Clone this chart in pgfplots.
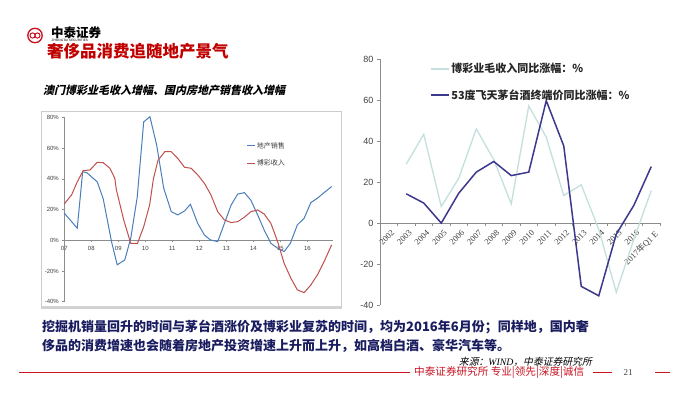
\documentclass[border=0pt]{standalone}
\usepackage{pgfplots}
\pgfplotsset{compat=1.18}
\usepackage{fontspec}
\setmainfont{Liberation Sans}
\newfontfamily\cjk{Noto Sans CJK SC}
\newfontfamily\cjksl[FakeSlant=0.22]{Noto Sans CJK SC}
\newfontfamily\tms{Liberation Serif}
\definecolor{ztred}{RGB}{200,20,35}
\definecolor{titlered}{RGB}{192,0,0}
\definecolor{navy}{RGB}{25,28,95}
\definecolor{xlblue}{RGB}{74,126,187}
\definecolor{xlred}{RGB}{192,80,77}
\definecolor{pale}{RGB}{196,224,222}
\definecolor{darkl}{RGB}{60,56,140}
\definecolor{axgray}{RGB}{140,140,140}
\definecolor{txtgray}{RGB}{64,64,64}
\pgfplotstableread{
x y
2007.00 17.6
2007.48 7.8
2007.68 44.6
2007.83 44.0
2008.22 38.0
2008.44 27.0
2008.75 -1.0
2008.96 -16.0
2009.24 -12.8
2009.46 1.3
2009.70 28.0
2009.94 77.0
2010.17 80.4
2010.42 62.0
2010.68 34.0
2010.96 18.6
2011.20 16.5
2011.45 19.0
2011.67 23.4
2011.94 11.0
2012.19 3.4
2012.41 0.2
2012.68 -0.9
2012.93 11.0
2013.18 23.0
2013.42 30.0
2013.67 31.0
2013.91 26.0
2014.16 16.5
2014.40 6.7
2014.65 -2.0
2014.90 -5.2
2015.14 -7.4
2015.37 -2.0
2015.63 10.0
2015.88 14.3
2016.13 24.5
2016.37 27.3
2016.62 31.0
2016.90 34.9
}\estate
\pgfplotstableread{
x y
2007.00 23.6
2007.27 29.5
2007.48 38.0
2007.70 45.3
2007.95 45.7
2008.22 50.7
2008.44 50.5
2008.69 46.8
2008.87 40.3
2008.93 32.7
2009.20 13.2
2009.46 -2.0
2009.71 -2.0
2009.94 8.8
2010.16 23.0
2010.30 40.0
2010.47 52.0
2010.72 57.6
2010.96 57.6
2011.20 53.3
2011.45 47.5
2011.70 46.8
2011.94 42.5
2012.19 37.0
2012.43 29.5
2012.68 18.6
2012.93 13.2
2013.18 11.5
2013.42 12.1
2013.67 15.0
2013.91 18.6
2014.16 19.7
2014.40 17.1
2014.65 11.0
2014.90 -0.9
2015.14 -15.0
2015.39 -24.7
2015.63 -32.3
2015.88 -34.1
2016.13 -29.1
2016.37 -22.6
2016.62 -13.9
2016.90 -3.0
}\gaming
\pgfplotstableread{
x y
1 28.8
2 43.4
3 8.1
4 21.9
5 46.0
6 31.0
7 9.4
8 57.2
9 42.0
10 13.5
11 18.7
12 -3.0
13 -33.8
14 -8.0
15 15.9
}\gamb
\pgfplotstableread{
x y
1 14.3
2 9.8
3 0.0
4 14.6
5 24.9
6 30.1
7 23.2
8 24.9
9 59.8
10 37.7
11 -30.9
12 -35.5
13 -5.4
14 8.6
15 27.6
}\moutai
\begin{document}
\begin{tikzpicture}
\path[fill=white,use as bounding box] (0,0) rectangle (684pt,-397pt);
% logo
\draw[ztred,line width=1.3pt] (35pt,-35.5pt) circle (7.2pt);
\draw[ztred,line width=1pt] (32.6pt,-35.5pt) circle (2.6pt);
\draw[ztred,line width=1pt] (37.4pt,-35.5pt) circle (2.6pt);
\node[anchor=west,inner sep=0pt,text=black] at (51pt,-32.5pt) {\cjk\bfseries\fontsize{12.5}{12.5}\selectfont 中泰证券};
\node[anchor=west,inner sep=0pt,text=black] at (51.5pt,-40pt) {\fontsize{3.2}{3.2}\selectfont ZHONGTAI SECURITIES};
\node[anchor=west,inner sep=0pt,text=titlered] at (47pt,-51pt) {\cjk\bfseries\fontsize{16.5}{17}\selectfont 奢侈品消费追随地产景气};
% left frame
\draw[gray!40,line width=0.6pt] (41pt,-309pt) -- (41pt,-111.7pt) -- (341pt,-111.7pt) -- (341pt,-309pt);
\draw[gray!35,line width=2.5pt] (41pt,-307.5pt) -- (341pt,-307.5pt);
\node[anchor=west,inner sep=0pt,text=black] at (43pt,-90.5pt) {\cjksl\bfseries\fontsize{11}{11}\selectfont 澳门博彩业毛收入增幅、国内房地产销售收入增幅};
\begin{axis}[at={(64.3pt,-301.7pt)}, anchor=south west, scale only axis,
  width=268.7pt, height=184.4pt,
  xmin=2007, xmax=2016.95, ymin=-40, ymax=80,
  axis x line=middle, axis y line=left,
  hide obscured x ticks=false, hide obscured y ticks=false,
  axis line style={draw=axgray,-, line width=0.5pt},
  tick style={draw=axgray, line width=0.5pt}, tick align=outside, major tick length=2pt,
  xtick={2007,2008,2009,2010,2011,2012,2013,2014,2015,2016},
  xticklabels={07,08,09,10,11,12,13,14,15,16},
  ytick={-40,-20,0,20,40,60,80}, yticklabel={\pgfmathprintnumber{\tick}\%},
  /pgf/number format/assume math mode=true,
  tick label style={font=\fontsize{6}{6}\selectfont, text=txtgray},
  x tick label style={yshift=-1pt},
  legend style={at={(0.679,0.871)}, anchor=north west, draw=none, fill=none,
    font=\cjk\fontsize{7}{7}\selectfont, text=txtgray, row sep=8pt, inner sep=0pt,
    nodes={inner sep=1pt}},
  legend cell align=left,
  legend image code/.code={\draw[#1] (0pt,0pt) -- (8pt,0pt);},
  clip=false]
\addplot[xlblue, line width=1pt] table[x=x,y=y] {\estate};
\addlegendentry{地产销售}
\addplot[xlred, line width=1pt] table[x=x,y=y] {\gaming};
\addlegendentry{博彩收入}
\end{axis}
% right chart
\begin{axis}[at={(380pt,-305pt)}, anchor=south west, scale only axis,
  width=280pt, height=245.7pt,
  xmin=-0.5, xmax=15.5, ymin=-40, ymax=80,
  axis x line=middle, axis y line=left,
  hide obscured x ticks=false,
  axis line style={draw=axgray,-, line width=0.6pt},
  tick style={draw=axgray, line width=0.6pt}, tick align=outside, major tick length=3pt,
  xtick={-0.5,0.5,...,15.5}, xticklabel=\empty,
  extra x ticks={0,1,2,3,4,5,6,7,8,9,10,11,12,13,14,15},
  extra x tick labels={2002,2003,2004,2005,2006,2007,2008,2009,2010,2011,2012,2013,2014,2015,2016,{2017{\cjk 年}Q1 E}},
  extra x tick style={tick style={draw=none}, tick label style={rotate=45, anchor=north east, inner sep=1pt, yshift=-3pt, font=\tms\fontsize{8.5}{9}\selectfont, text=txtgray}},
  ytick={-40,-20,0,20,40,60,80},
  /pgf/number format/assume math mode=true,
  y tick label style={font=\fontsize{9}{9}\selectfont, text=txtgray},
  legend style={at={(0.179,0.99)}, anchor=north west, draw=none, fill=none,
    font=\cjk\bfseries\fontsize{11}{11}\selectfont, text=black!85, row sep=12pt, inner sep=0pt,
    nodes={inner sep=1.5pt}},
  legend cell align=left,
  legend image code/.code={\draw[#1] (0pt,0pt) -- (18pt,0pt);},
  clip=false]
\addplot[pale, line width=1.3pt] table[x=x,y=y] {\gamb};
\addlegendentry{博彩业毛收入同比涨幅：\%}
\addplot[darkl, line width=1.5pt] table[x=x,y=y] {\moutai};
\addlegendentry{53度飞天茅台酒终端价同比涨幅：\%}
\end{axis}
% bottom text
\node[anchor=west,inner sep=0pt,text=navy] at (42pt,-327pt) {\cjk\bfseries\fontsize{13}{13}\selectfont 挖掘机销量回升的时间与茅台酒涨价及博彩业复苏的时间，均为2016年6月份；同样地，国内奢};
\node[anchor=west,inner sep=0pt,text=navy] at (42pt,-346pt) {\cjk\bfseries\fontsize{13}{13}\selectfont 侈品的消费增速也会随着房地产投资增速上升而上升，如高档白酒、豪华汽车等。};
\node[anchor=east,inner sep=0pt,text=black] at (592pt,-361.5pt) {\cjksl\fontsize{9.8}{9.8}\selectfont 来源：{\tms\itshape WIND}，中泰证券研究所};
% footer
\draw[ztred,line width=1.6pt] (19pt,-372.5pt) -- (410pt,-372.5pt);
\node[anchor=west,inner sep=0pt,text=ztred] at (414pt,-372.5pt) {\cjk\fontsize{10.6}{10.6}\selectfont 中泰证券研究所 专业|领先|深度|诚信};
\draw[ztred,line width=1.6pt] (593pt,-372.5pt) -- (612pt,-372.5pt);
\node[inner sep=0pt,text=txtgray] at (628pt,-373pt) {\tms\fontsize{9}{9}\selectfont 21};
\draw[ztred,line width=1.6pt] (655pt,-372.5pt) -- (670pt,-372.5pt);
\end{tikzpicture}
\end{document}
